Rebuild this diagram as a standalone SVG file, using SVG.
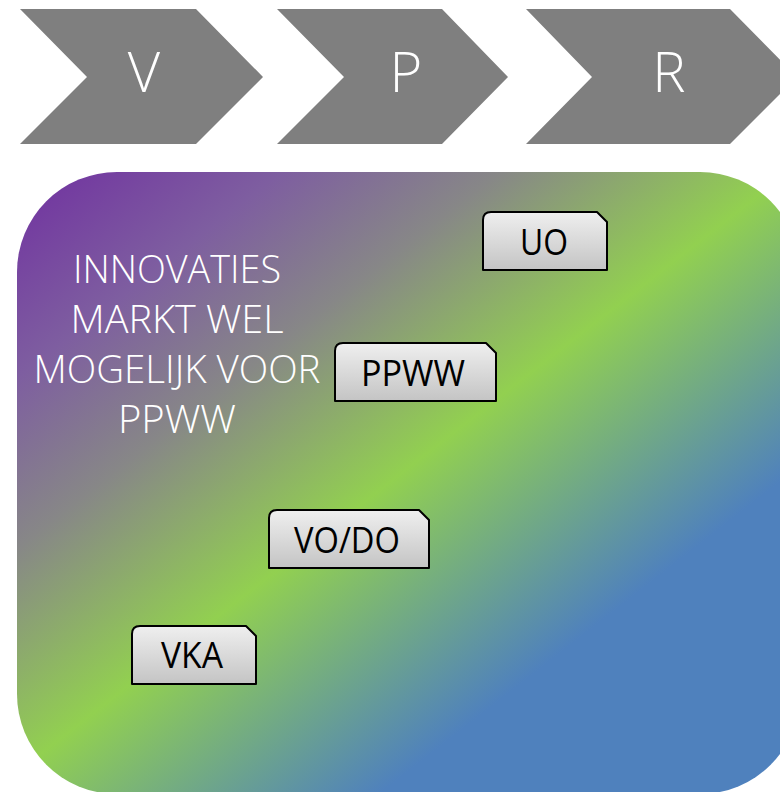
<svg xmlns="http://www.w3.org/2000/svg" width="780" height="792" viewBox="0 0 780 792">
  <defs>
    <linearGradient id="bg" gradientUnits="userSpaceOnUse" x1="89.6" y1="115.2" x2="678" y2="871">
      <stop offset="0" stop-color="#7030A0"/>
      <stop offset="0.17" stop-color="#7e5ea0"/>
      <stop offset="0.31" stop-color="#878787"/>
      <stop offset="0.495" stop-color="#92D050"/>
      <stop offset="0.745" stop-color="#4F81BD"/>
      <stop offset="1" stop-color="#4F81BD"/>
    </linearGradient>
    <linearGradient id="boxfill" x1="0" y1="0" x2="0" y2="1">
      <stop offset="0" stop-color="#efefef"/>
      <stop offset="1" stop-color="#c4c4c4"/>
    </linearGradient>
  </defs>
  <style>
    .chev { fill: #7f7f7f; }
    .chevtxt { font-family: "Open Sans", "Liberation Sans", sans-serif; font-weight: 300; font-size: 56px; fill: #ffffff; text-anchor: middle; }
    .box { fill: url(#boxfill); stroke: #000000; stroke-width: 2; stroke-linejoin: round; }
    .boxtxt { font-family: "Open Sans", "Liberation Sans", sans-serif; font-weight: 400; font-size: 36px; fill: #000000; text-anchor: middle; }
    .bigtxt { font-family: "Open Sans", "Liberation Sans", sans-serif; font-weight: 300; font-size: 39px; fill: #ffffff; text-anchor: middle; }
  </style>

  <g id="chevron-V">
    <polygon class="chev" points="20,9 196,9 263,77 196,144 20,144 87,77"/>
    <text class="chevtxt" x="144" y="92">V</text>
  </g>
  <g id="chevron-P">
    <polygon class="chev" points="277,9 442,9 508,77 442,144 277,144 344,77"/>
    <text class="chevtxt" x="406" y="92">P</text>
  </g>
  <g id="chevron-R">
    <polygon class="chev" points="526,9 730,9 797,77 730,144 526,144 592,77"/>
    <text class="chevtxt" x="669" y="92">R</text>
  </g>

  <g id="background">
    <rect x="17" y="172" width="783" height="622" rx="100" ry="100" fill="url(#bg)"/>
  </g>

  <g id="label-innovaties">
    <text class="bigtxt" x="177" y="283" textLength="208" lengthAdjust="spacingAndGlyphs">INNOVATIES</text>
    <text class="bigtxt" x="177" y="333" textLength="213" lengthAdjust="spacingAndGlyphs">MARKT WEL</text>
    <text class="bigtxt" x="177" y="383" textLength="287" lengthAdjust="spacingAndGlyphs">MOGELIJK VOOR</text>
    <text class="bigtxt" x="177" y="433" textLength="118" lengthAdjust="spacingAndGlyphs">PPWW</text>
  </g>

  <g id="connectors"></g>

  <g id="node-UO">
    <path class="box" d="M491,212 L597,212 L607,222 L607,270 L483,270 L483,220 Q483,212 491,212 Z"/>
    <text class="boxtxt" x="544" y="255" textLength="48" lengthAdjust="spacingAndGlyphs">UO</text>
  </g>
  <g id="node-PPWW">
    <path class="box" d="M343,343 L486,343 L496,353 L496,401 L335,401 L335,351 Q335,343 343,343 Z"/>
    <text class="boxtxt" x="413" y="386" textLength="104" lengthAdjust="spacingAndGlyphs">PPWW</text>
  </g>
  <g id="node-VODO">
    <path class="box" d="M277,510 L419,510 L429,520 L429,568 L269,568 L269,518 Q269,510 277,510 Z"/>
    <text class="boxtxt" x="347" y="553" textLength="106" lengthAdjust="spacingAndGlyphs">VO/DO</text>
  </g>
  <g id="node-VKA">
    <path class="box" d="M140,626 L246,626 L256,636 L256,684 L132,684 L132,634 Q132,626 140,626 Z"/>
    <text class="boxtxt" x="192" y="668" textLength="62" lengthAdjust="spacingAndGlyphs">VKA</text>
  </g>
</svg>
